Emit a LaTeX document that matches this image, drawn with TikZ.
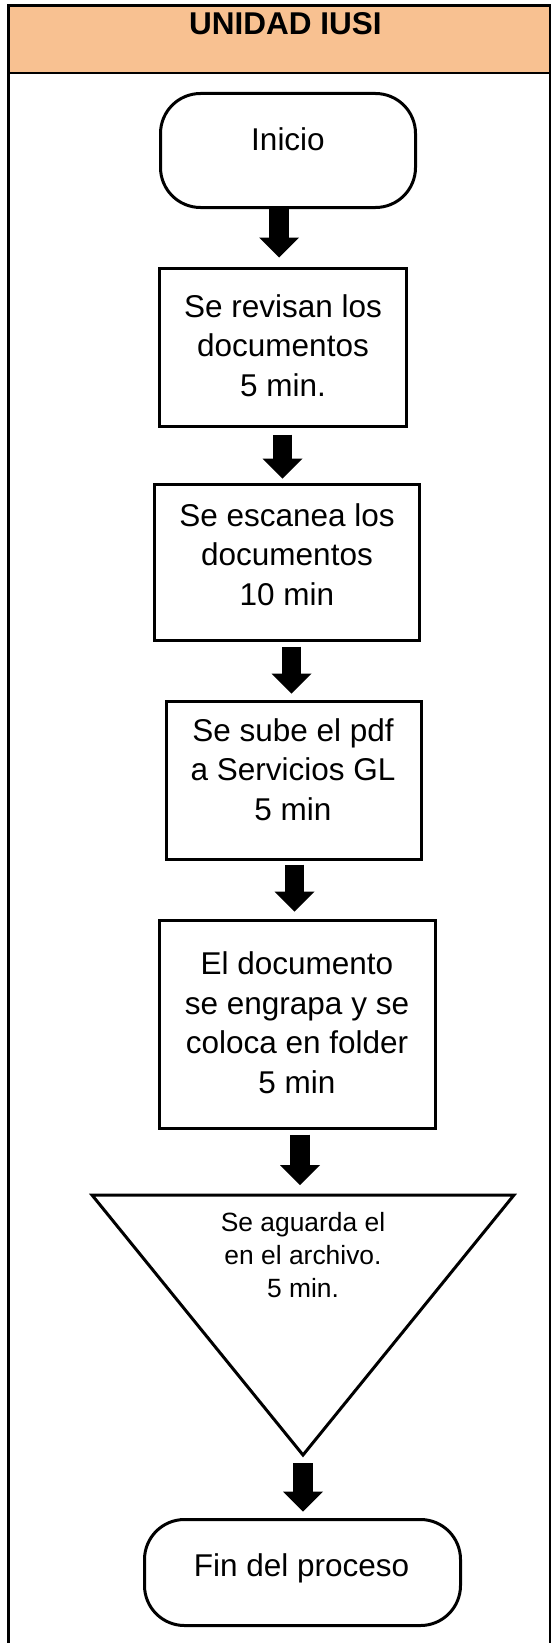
\documentclass[tikz,border=0pt]{standalone}
\usepackage{fontspec}
\setmainfont{Liberation Sans}
\usetikzlibrary{arrows.meta}
\definecolor{hdrfill}{HTML}{F8C191}
\tikzset{
  proc/.style={draw=black, line width=3pt, fill=white, inner sep=0pt},
  term/.style={proc, rounded corners=40pt},
  txt/.style={inner sep=0pt, anchor=base, font=\fontsize{31.5}{39.5}\selectfont},
  blk/.style={line width=19.5pt, -{Triangle[width=40pt,length=20pt,line width=0pt]}},
  framel/.style={line width=2.7pt}
}
\newcommand\mylines[1]{\begin{tabular}[b]{@{}c@{}}#1\end{tabular}}
\begin{document}
\begin{tikzpicture}[x=1pt,y=-1pt]
\useasboundingbox (0,0) rectangle (552,1643);
% header and frame
\fill[hdrfill] (8.3,5.5) rectangle (550,73);
\draw[framel] (8.3,1645) -- (8.3,5.5) -- (550,5.5) -- (550,1645);
\draw[framel] (8.3,73) -- (550,73);
\node[txt, font=\bfseries\fontsize{31.5}{38}\selectfont] (hdr) at (285.5,35) {UNIDAD IUSI};
% shapes
\node[term, minimum width=255pt, minimum height=114pt] (ini) at (288,150.5) {};
\node[proc, minimum width=247pt, minimum height=158pt] (b1) at (283,347.5) {};
\node[proc, minimum width=265pt, minimum height=156pt] (b2) at (287,562.5) {};
\node[proc, minimum width=255pt, minimum height=158pt] (b3) at (294,780.5) {};
\node[proc, minimum width=276pt, minimum height=208pt] (b4) at (297.5,1024.5) {};
\coordinate (triL) at (92,1195);
\coordinate (triR) at (514,1195);
\coordinate (triB) at (303,1455);
\coordinate (triT) at (300,1195);
\draw[line width=3pt, fill=white] (triL) -- (triR) -- (triB) -- cycle;
\node[term, minimum width=316pt, minimum height=106pt] (fin) at (302.5,1572.5) {};
% texts
\node[txt] (tini) at (288,150) {Inicio};
\node[txt] (t1) at (283,396) {\mylines{Se revisan los\\documentos\\5 min.}};
\node[txt] (t2) at (287,605) {\mylines{Se escanea los\\documentos\\10 min}};
\node[txt] (t3) at (293,820) {\mylines{Se sube el pdf\\a Servicios GL\\5 min}};
\node[txt] (t4) at (297,1093) {\mylines{El documento\\se engrapa y se\\coloca en folder\\5 min}};
\node[txt, font=\fontsize{26.4}{33}\selectfont] (tt) at (303,1297) {\mylines{Se aguarda el\\en el archivo.\\5 min.}};
\node[txt] (tfin) at (301.5,1576) {Fin del proceso};
% arrows
\draw[blk] ([xshift=-9pt]ini.south) -- ([xshift=-4pt,yshift=9.5pt]b1.north);
\draw[blk] ([xshift=-0.5pt,yshift=-6.5pt]b1.south) -- ([xshift=-4.5pt,yshift=4.5pt]b2.north);
\draw[blk] ([xshift=4.5pt,yshift=-4.5pt]b2.south) -- ([xshift=-2.5pt,yshift=6.5pt]b3.north);
\draw[blk] ([xshift=0.5pt,yshift=-3.5pt]b3.south) -- ([xshift=-3pt,yshift=7.5pt]b4.north);
\draw[blk] ([xshift=2.5pt,yshift=-4.5pt]b4.south) -- ([yshift=10pt]triT);
\draw[blk] ([yshift=-8pt]triB) -- ([xshift=0.5pt,yshift=6.5pt]fin.north);
\end{tikzpicture}
\end{document}
